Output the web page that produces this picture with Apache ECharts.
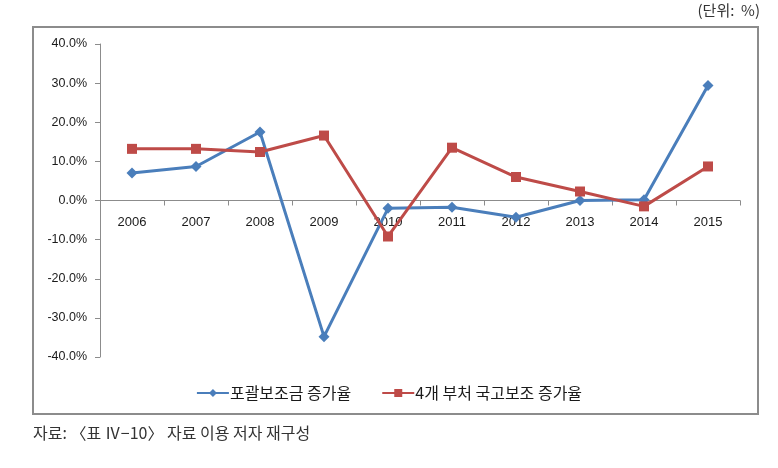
<!DOCTYPE html>
<html><head><meta charset="utf-8">
<script src="https://cdn.jsdelivr.net/npm/echarts@6/dist/echarts.min.js"></script>
<style>html,body{margin:0;padding:0;background:#fff}#c{width:778px;height:468px}</style>
</head><body><div id="c"></div>
<script>
const categories = ['2006','2007','2008','2009','2010','2011','2012','2013','2014','2015'];
const seriesNames = ['포괄보조금 증가율', '4개 부처 국고보조 증가율'];
const blockGrant = [7.0, 8.7, 17.5, -34.8, -2.0, -1.7, -4.3, 0.0, 0.2, 29.4];
const ministrySubsidy = [13.2, 13.2, 12.4, 16.6, -9.2, 13.5, 6.0, 2.3, -1.5, 8.7];
const yTicks = [-40, -30, -20, -10, 0, 10, 20, 30, 40];
const unitText = '(단위:  %)';
const sourceText = '자료: 〈표 Ⅳ−10〉 자료 이용 저자 재구성';

const chart = echarts.init(document.getElementById('c'));
const krFont = '"Noto Sans CJK KR", sans-serif';
const gridTop = 44, gridHeight = 313;
const yMin = yTicks[0], yMax = yTicks[yTicks.length-1];
const zeroOffset = -gridHeight * (0 - yMin) / (yMax - yMin);
chart.setOption({
  animation: false,
  backgroundColor: '#fff',
  grid: {left: 100, right: 38, top: gridTop, height: gridHeight},
  xAxis: {
    type: 'category', data: categories, boundaryGap: true,
    offset: zeroOffset,
    axisLine: {onZero: false, lineStyle: {color: '#8c8c8c', width: 1}},
    axisTick: {show: true, length: 5, lineStyle: {color: '#8c8c8c'}},
    axisLabel: {color: '#1a1a1a', fontSize: 13, fontFamily: 'Liberation Sans, Arial', margin: 15},
    splitLine: {show: false}
  },
  yAxis: {
    type: 'value', min: yMin, max: yMax, interval: 10,
    axisLine: {show: true, lineStyle: {color: '#8c8c8c', width: 1}},
    axisTick: {show: true, length: 5, lineStyle: {color: '#8c8c8c'}},
    axisLabel: {color: '#1a1a1a', fontSize: 12.5, fontFamily: 'Liberation Sans, Arial', margin: 13,
      formatter: v => v.toFixed(1) + '%'},
    splitLine: {show: false}
  },
  legend: {
    top: 380, left: 'center', itemGap: 30, itemWidth: 32, itemHeight: 10,
    textStyle: {fontFamily: krFont, fontSize: 16, color: '#1a1a1a', padding: [0, 0, 0, -4]},
    data: [seriesNames[0], seriesNames[1]]
  },
  series: [
    {name: seriesNames[0], type: 'line', data: blockGrant, symbol: 'diamond', symbolSize: 11,
      lineStyle: {color: '#4a7ebb', width: 3}, itemStyle: {color: '#4a7ebb'}, z: 2},
    {name: seriesNames[1], type: 'line', data: ministrySubsidy, symbol: 'rect', symbolSize: 10,
      lineStyle: {color: '#be4b48', width: 3}, itemStyle: {color: '#be4b48'}, z: 3}
  ],
  graphic: [
    {type: 'rect', shape: {x: 33, y: 27, width: 725, height: 387},
      style: {fill: null, stroke: '#8c8c8c', lineWidth: 2}, silent: true, z: -1},
    {type: 'text', right: 18, top: 3, style: {text: unitText, font: '15px ' + krFont, fill: '#333'}},
    {type: 'text', left: 33, top: 425, style: {text: sourceText, font: '16px ' + krFont, fill: '#333'}}
  ]
});
</script></body></html>
